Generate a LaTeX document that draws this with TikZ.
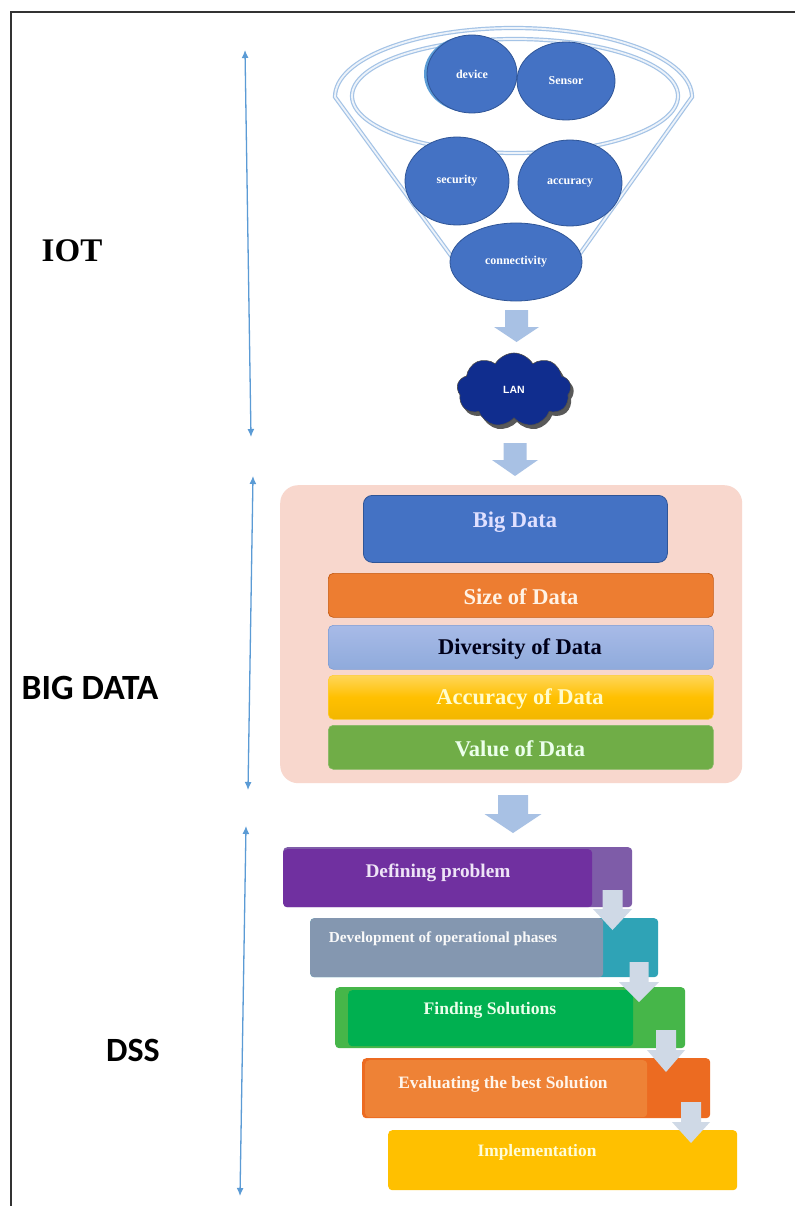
\documentclass[tikz,border=0pt]{standalone}
\usepackage{fontspec}
\setmainfont{Liberation Serif}
\newfontfamily\carl{Carlito}
\newfontfamily\lsans{Liberation Sans}
\usetikzlibrary{shapes.geometric,shapes.symbols,arrows.meta}
\definecolor{bubbleblue}{HTML}{4472C4}
\definecolor{bubbleedge}{HTML}{2F5597}
\definecolor{funnelc}{HTML}{A4C3E6}
\definecolor{bigarrc}{HTML}{A8C1E4}
\definecolor{steparrc}{HTML}{CFD9E6}
\definecolor{dimc}{HTML}{5B9BD5}
\definecolor{cloudc}{HTML}{102D8E}
\definecolor{panelc}{HTML}{F8D7CD}
\definecolor{orangec}{HTML}{ED7D31}
\definecolor{orangeedge}{HTML}{C55A11}
\definecolor{greenc}{HTML}{70AD47}
\definecolor{goldc}{HTML}{FFC000}
\newcommand{\blockarr}[7]{\fill[#1] ({#2-#6},#3) -- ({#2+#6},#3) -- ({#2+#6},#4) -- ({#2+#7},#4) -- (#2,#5) -- ({#2-#7},#4) -- ({#2-#6},#4) -- cycle;}
\tikzset{
  bubble/.style={ellipse, fill=bubbleblue, draw=bubbleedge, line width=0.8pt, inner sep=0pt,
    text=white, font=\bfseries\fontsize{12}{13}\selectfont},
  funnelline/.style={draw=funnelc, line width=1.2pt, double=white!80!funnelc, double distance=1.8pt},
  dimarrow/.style={draw=dimc, line width=1.3pt, {Latex[length=8pt,width=7pt]}-{Latex[length=8pt,width=7pt]}},
  sidelabel/.style={font=\carl\bfseries\fontsize{34}{36}\selectfont, text=black},
  bdbar/.style={rectangle, rounded corners=5pt, minimum width=385pt, minimum height=44pt, anchor=north west, inner sep=0pt},
  bdtext/.style={font=\bfseries\fontsize{22.5}{24}\selectfont},
  dssbox/.style={rectangle, rounded corners=4pt, anchor=north west, inner sep=0pt},
  dsstext/.style={font=\bfseries\fontsize{17.4}{19}\selectfont, text=white!95!gray},
}
\begin{document}
\begin{tikzpicture}[x=1pt,y=-1pt]
\useasboundingbox (0,0) rectangle (795,1206);
\fill[white] (0,0) rectangle (795,1206);
% frame
\draw[line width=2.4pt, draw=black!80] (11,1206) -- (11,12) -- (795,12);

% side labels
\node[font=\bfseries\fontsize{33}{36}\selectfont] (iot) at (72,251) {IOT};
\node[sidelabel, font=\carl\bfseries\fontsize{35.5}{38}\selectfont] (bigdatalbl) at (90,688) {BIG DATA};
\node[sidelabel] (dsslbl) at (133,1050) {DSS};

% dimension arrows
\coordinate (iotA) at (245,50);
\coordinate (iotB) at (251,437);
\coordinate (bdA) at (253,476);
\coordinate (bdB) at (248,790);
\coordinate (dsA) at (246,826);
\coordinate (dsB) at (240,1196);
\draw[dimarrow] (iotA) -- (iotB);
\draw[dimarrow] (bdA) -- (bdB);
\draw[dimarrow] (dsA) -- (dsB);

% funnel
\draw[funnelline] (335,97) arc[start angle=180, end angle=0, x radius=178.5pt, y radius=69pt] -- (554,290) -- (476,290) -- cycle;
\draw[funnelline] (515,96) ellipse [x radius=163pt, y radius=57pt];

% bubbles
\fill[dimc] (468,74) ellipse [x radius=44pt, y radius=38pt];
\node[bubble, minimum width=90pt, minimum height=78pt] (device) at (472,74) {device};
\node[bubble, minimum width=98pt, minimum height=78pt] (sensor) at (566,81) {Sensor};
\node[bubble, minimum width=104pt, minimum height=88pt] (security) at (457,181) {security};
\node[bubble, minimum width=104pt, minimum height=86pt] (accuracy) at (570,183) {accuracy};
\node[bubble, minimum width=132pt, minimum height=78pt] (connect) at (516,262) {connectivity};

% arrow to LAN
\blockarr{bigarrc}{516.5}{310}{327}{342}{11.5}{22.5}

% cloud
\node[cloud, cloud puffs=9, cloud puff arc=120, aspect=1.55, minimum width=114pt, minimum height=74pt,
  fill=black!65, inner sep=0pt] (cloudshadow) at (517,394) {};
\node[cloud, cloud puffs=9, cloud puff arc=120, aspect=1.55, minimum width=114pt, minimum height=74pt,
  fill=cloudc, draw=black!70, line width=0.6pt, inner sep=0pt, text=white,
  font=\lsans\bfseries\fontsize{10.5}{11}\selectfont] (lan) at (514,390) {LAN};

% arrow to big data
\blockarr{bigarrc}{515}{443}{460}{476}{11.5}{23}

% big data panel
\node[rectangle, rounded corners=18pt, fill=panelc, minimum width=462pt, minimum height=298pt,
  anchor=north west, inner sep=0pt] (panel) at (280,485) {};
\node[rectangle, rounded corners=9pt, fill=bubbleblue, draw=bubbleedge, line width=0.8pt,
  minimum width=304pt, minimum height=67pt, anchor=north west, inner sep=0pt] (bigdata) at (363,495) {};
\node[bdtext, text=white!88!blue] (bigdatat) at (515,522) {Big Data};
\node[bdbar, fill=orangec, draw=orangeedge, line width=0.7pt] (size) at (328,573) {};
\node[bdtext, text=white!90!orange] (sizet) at (521,597) {Size of Data};
\node[bdbar, top color=blue!10!bubbleblue!45, bottom color=bubbleblue!60, draw=bubbleblue!70, line width=0.6pt] (div) at (328,625) {};
\node[bdtext, text=black!90!blue] (divt) at (520,649) {Diversity of Data};
\node[bdbar, top color=goldc!65, bottom color=goldc!95!black, middle color=goldc, draw=goldc!80, line width=0.6pt] (acc) at (328,675) {};
\node[bdtext, text=white!80!yellow] (acct) at (520,699) {Accuracy of Data};
\node[bdbar, fill=greenc, draw=greenc!85!white, line width=0.6pt] (val) at (328,725) {};
\node[bdtext, text=white!92!green] (valt) at (520,749) {Value of Data};

% arrow to DSS
\blockarr{bigarrc}{513}{795}{814}{833}{15}{28.5}

% DSS steps
\node[dssbox, fill={rgb,255:red,126;green,92;blue,168}, minimum width=349pt, minimum height=60pt] (d1o) at (283,847) {};
\node[dssbox, fill={rgb,255:red,112;green,48;blue,160}, minimum width=309pt, minimum height=58pt] (d1i) at (283,849) {};
\node[dsstext, font=\bfseries\fontsize{19.3}{21}\selectfont, text={rgb,255:red,238;green,228;blue,247}] (d1t) at (438,873) {Defining problem};

\node[dssbox, fill={rgb,255:red,47;green,163;blue,182}, minimum width=348pt, minimum height=59pt] (d2o) at (310,918) {};
\node[dssbox, fill={rgb,255:red,132;green,151;blue,176}, minimum width=293pt, minimum height=59pt] (d2i) at (310,918) {};
\node[dsstext, font=\bfseries\fontsize{15.3}{17}\selectfont] (d2t) at (443,939) {Development of operational phases};

\node[dssbox, fill={rgb,255:red,70;green,182;blue,73}, minimum width=350pt, minimum height=61pt] (d3o) at (335,987) {};
\node[dssbox, fill={rgb,255:red,0;green,176;blue,80}, minimum width=285pt, minimum height=56pt] (d3i) at (348,990) {};
\node[dsstext, font=\bfseries\fontsize{17.6}{19}\selectfont, text=white!92!green] (d3t) at (490,1010) {Finding Solutions};

\node[dssbox, fill={rgb,255:red,236;green,107;blue,33}, minimum width=348pt, minimum height=60pt] (d4o) at (362,1058) {};
\node[dssbox, fill={rgb,255:red,238;green,130;blue,54}, minimum width=282pt, minimum height=57pt] (d4i) at (365,1060) {};
\node[dsstext, text=white!92!orange] (d4t) at (503,1084) {Evaluating the best Solution};

\node[dssbox, fill=goldc, minimum width=349pt, minimum height=60pt] (d5o) at (388,1130) {};
\node[dsstext, text=white!85!yellow] (d5t) at (537,1152) {Implementation};

% step arrows
\blockarr{steparrc}{612.5}{890}{909}{930}{10}{19.5}
\blockarr{steparrc}{639}{962}{982}{1002}{9.5}{20}
\blockarr{steparrc}{666}{1030}{1050}{1072}{10}{19}
\blockarr{steparrc}{691}{1102}{1122}{1143}{10}{19}
\end{tikzpicture}
\end{document}
